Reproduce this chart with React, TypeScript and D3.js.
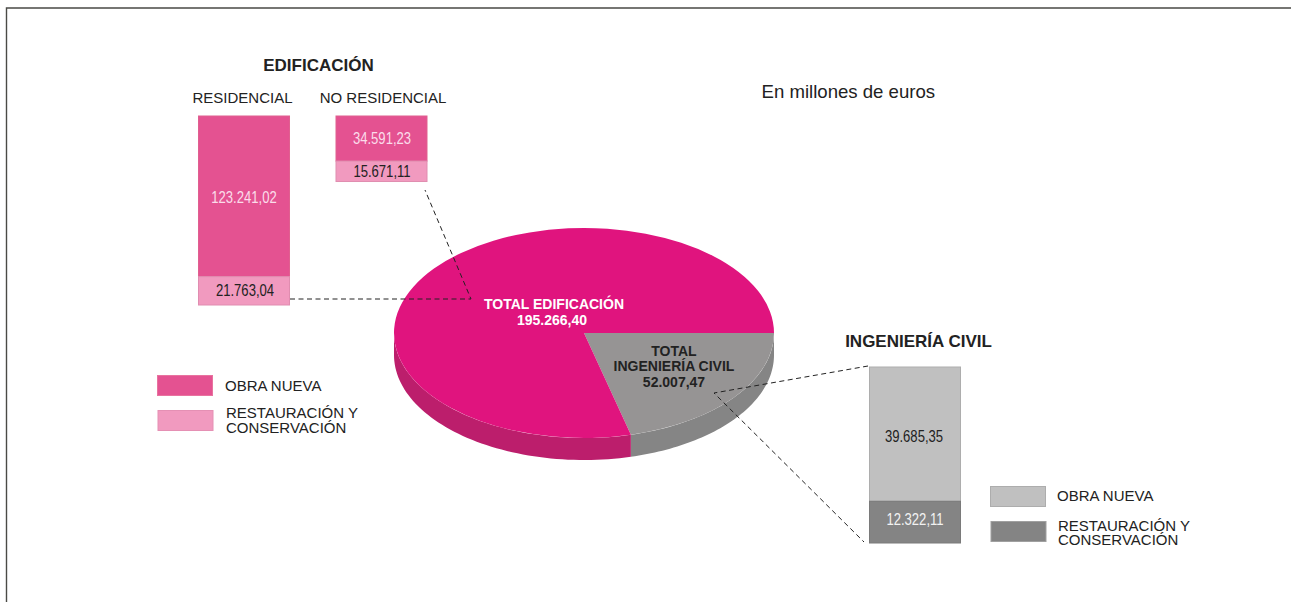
import React from "react";
import * as d3 from "d3";

// Values in millions of euros, as printed on the chart
const pieLabels = ["INGENIERÍA CIVIL", "EDIFICACIÓN"];
const pieValues = [52007.47, 195266.4];
const pieColors = ["#969494", "#e0147e"];
const pieSideColors = ["#858585", "#bc1e6c"];

const residencial = [123241.02, 21763.04];
const noResidencial = [34591.23, 15671.11];
const civil = [39685.35, 12322.11];

const barLabels = ["123.241,02", "21.763,04", "34.591,23", "15.671,11", "39.685,35", "12.322,11"];
const legendLabels = ["OBRA NUEVA", "RESTAURACIÓN Y", "CONSERVACIÓN"];

const SANS = "'Liberation Sans', Arial, sans-serif";
const INK = "#222222";

const cx = 584;
const cy = 333;
const rx = 190;
const ry = 105;
const depth = 22;

// bars for edificacion and civil are not on the same scale in the picture
const edifScale = d3.scaleLinear().domain([0, 145004.06]).range([0, 189]);
const civilScale = d3.scaleLinear().domain([0, 52007.46]).range([0, 176]);

// the original uses a condensed face, squeeze the regular one to get there
function Narrow({ x, y, fill, children }: any) {
  return (
    <text transform={`translate(${x},${y}) scale(0.77,1)`} textAnchor="middle" fontFamily={SANS} fontSize={17} fill={fill}>
      {children}
    </text>
  );
}

function Stack({ x, top, width, values, scale, colors, strokes, labels, labelColors, labelX, labelDy }: any) {
  const h0 = scale(values[0]);
  const h1 = scale(values[1]);
  return (
    <g>
      <rect x={x} y={top} width={width} height={h0} fill={colors[0]} stroke={strokes[0]} strokeWidth={1} />
      <rect x={x} y={top + h0} width={width} height={h1} fill={colors[1]} stroke={strokes[1]} strokeWidth={1} />
      <Narrow x={labelX[0]} y={top + h0 / 2 + labelDy[0]} fill={labelColors[0]}>{labels[0]}</Narrow>
      <Narrow x={labelX[1]} y={top + h0 + h1 / 2 + labelDy[1]} fill={labelColors[1]}>{labels[1]}</Narrow>
    </g>
  );
}

function Legend({ x, y, colors, strokes, textX, offsets }: any) {
  return (
    <g fontFamily={SANS} fontSize={15} fill={INK}>
      <rect x={x} y={y} width={55} height={20} fill={colors[0]} stroke={strokes[0]} />
      <rect x={x + 0.5} y={y + 35} width={55} height={20} fill={colors[1]} stroke={strokes[1]} />
      <text x={textX} y={y + offsets[0]}>{legendLabels[0]}</text>
      <text x={textX + 1} y={y + offsets[1]}>{legendLabels[1]}</text>
      <text x={textX + 1} y={y + offsets[2]}>{legendLabels[2]}</text>
    </g>
  );
}

export default function App() {
  const pie = d3.pie<number>().sort(null).startAngle(Math.PI / 2).endAngle(Math.PI * 2.5);
  const slices = pie(pieValues);
  const arc = d3.arc<d3.PieArcDatum<number>>().innerRadius(0).outerRadius(rx);

  // side wall of the disc, only the part facing the viewer (d3 angle pi/2..3pi/2)
  const wall = (a0: number, a1: number) => {
    const n = 60;
    const angles = d3.range(n + 1).map((i) => a0 + ((a1 - a0) * i) / n);
    const top = angles.map((a) => [Math.sin(a) * rx, -Math.cos(a) * ry] as [number, number]);
    const bottom = angles
      .slice()
      .reverse()
      .map((a) => [Math.sin(a) * rx, -Math.cos(a) * ry + depth] as [number, number]);
    return d3.line()([...top, ...bottom]) + "Z";
  };
  const walls = slices.map((s) => wall(s.startAngle, Math.min(s.endAngle, Math.PI * 1.5)));

  return (
    <svg width={1291} height={602} style={{ position: "absolute", left: 0, top: 0, display: "block" }}>
      <rect width={1291} height={602} fill="#ffffff" />
      <path d="M6.5,602V8H1291" fill="none" stroke="#4a4a46" strokeWidth={1.4} />

      <text x={318.5} y={71} textAnchor="middle" fontFamily={SANS} fontWeight="bold" fontSize={17} fill={INK}>EDIFICACIÓN</text>
      <text x={242.5} y={103} textAnchor="middle" fontFamily={SANS} fontSize={15} fill={INK}>RESIDENCIAL</text>
      <text x={383} y={103} textAnchor="middle" fontFamily={SANS} fontSize={15} fill={INK}>NO RESIDENCIAL</text>
      <text x={761.5} y={98} fontFamily={SANS} fontSize={18.6} fill={INK}>En millones de euros</text>
      <text x={918.5} y={347} textAnchor="middle" fontFamily={SANS} fontWeight="bold" fontSize={17} fill={INK}>INGENIERÍA CIVIL</text>

      <Stack x={198.5} top={116} width={91} values={residencial} scale={edifScale}
        colors={["#e45291", "#f19abf"]} strokes={["#e0608f", "#e08db0"]}
        labels={[barLabels[0], barLabels[1]]} labelColors={["#fbdcea", "#222222"]}
        labelX={[244, 245]} labelDy={[6.5, 5.5]} />
      <Stack x={336} top={116} width={91} values={noResidencial} scale={edifScale}
        colors={["#e45291", "#f19abf"]} strokes={["#e0608f", "#e08db0"]}
        labels={[barLabels[2], barLabels[3]]} labelColors={["#fbdcea", "#222222"]}
        labelX={[382, 382]} labelDy={[5, 6]} />
      <Stack x={869.5} top={367} width={91} values={civil} scale={civilScale}
        colors={["#c0c0c0", "#848484"]} strokes={["#adadad", "#7a7a7a"]}
        labels={[barLabels[4], barLabels[5]]} labelColors={["#222222", "#f2f2f2"]}
        labelX={[914, 915]} labelDy={[7.5, 2.5]} />

      <g transform={`translate(${cx},${cy})`}>
        {walls.map((d, i) => (
          <path key={pieLabels[i]} d={d} fill={pieSideColors[i]} />
        ))}
        <g transform={`scale(1,${ry / rx})`}>
          {slices.map((s, i) => (
            <path key={pieLabels[i]} d={arc(s) as string} fill={pieColors[i]} />
          ))}
        </g>
      </g>

      <g fontFamily={SANS} fontWeight="bold" fontSize={14} textAnchor="middle">
        <text x={554} y={309} fill="#ffffff">TOTAL EDIFICACIÓN</text>
        <text x={552} y={325} fill="#ffffff">195.266,40</text>
        <text x={674} y={356} fill={INK}>TOTAL</text>
        <text x={674} y={371} fill={INK}>INGENIERÍA CIVIL</text>
        <text x={674} y={386.5} fill={INK}>52.007,47</text>
      </g>

      <g fill="none" stroke="#222222" strokeWidth={1} strokeDasharray="5 3.5">
        <path d="M290,299H471L425,190" />
        <path d="M868,366L714,393L864,542" />
      </g>

      <Legend x={157.5} y={375.5} colors={["#e45291", "#f19abf"]} strokes={["#e8739f", "#e590b4"]} textX={225} offsets={[15.5, 42.5, 57]} />
      <Legend x={990.5} y={486.5} colors={["#c0c0c0", "#848484"]} strokes={["#adadad", "#a0a0a0"]} textX={1057} offsets={[14.5, 44, 58.5]} />
    </svg>
  );
}
